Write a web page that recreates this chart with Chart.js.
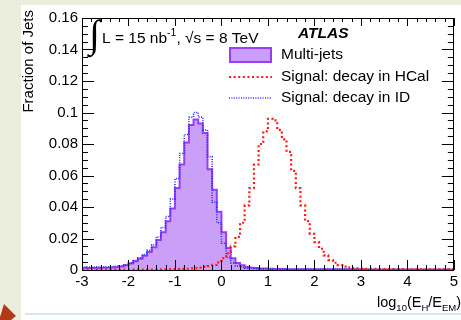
<!DOCTYPE html>
<html>
<head>
<meta charset="utf-8">
<script src="https://cdn.jsdelivr.net/npm/chart.js@4.4.0/dist/chart.umd.min.js"></script>
<style>
  html, body { margin: 0; padding: 0; }
  body { width: 461px; height: 320px; overflow: hidden; background: #eceedd; position: relative; }
  #sheet { position: absolute; left: 21px; top: 5px; width: 440px; height: 315px; background: #fff; }
  #rule { position: absolute; left: 25px; top: 313px; width: 436px; height: 2px; background: #d3e6f6; }
  #arrow { position: absolute; left: 0; top: 302px; width: 16px; height: 18px; background: #b23a16;
           clip-path: polygon(0 15px, 4px 2px, 16px 14px, 11px 18px, 0 18px); }
  #chart { position: absolute; left: 21px; top: 5px; }
</style>
</head>
<body>
<div id="sheet"></div>
<div id="rule"></div>
<div id="arrow"></div>
<canvas id="chart" width="440" height="315"></canvas>
<script>
// bin lower edges (+ last upper edge), log10(E_H/E_EM)
var binEdges = [
  -3.0, -2.9, -2.8, -2.7, -2.6, -2.5, -2.4, -2.3, -2.2, -2.1,
  -2.0, -1.9, -1.8, -1.7, -1.6, -1.5, -1.4, -1.3, -1.2, -1.1,
  -1.0, -0.9, -0.8, -0.7, -0.6, -0.5, -0.4, -0.3, -0.2, -0.1,
   0.0,  0.1,  0.2,  0.3,  0.4,  0.5,  0.6,  0.7,  0.8,  0.9,
   1.0,  1.1,  1.2,  1.3,  1.4,  1.5,  1.6,  1.7,  1.8,  1.9,
   2.0,  2.1,  2.2,  2.3,  2.4,  2.5,  2.6,  2.7,  2.8,  2.9,
   3.0,  3.1,  3.2,  3.3,  3.4,  3.5,  3.6,  3.7,  3.8,  3.9,
   4.0,  4.1,  4.2,  4.3,  4.4,  4.5,  4.6,  4.7,  4.8,  4.9,
   5.0
];

// fraction of jets per bin
var multiJets = [
  0.0012, 0.0012, 0.0012, 0.0013, 0.0013, 0.0014, 0.0015, 0.0016, 0.0018, 0.0022,
  0.003, 0.0042, 0.0055, 0.0072, 0.009, 0.0115, 0.0145, 0.019, 0.024, 0.031,
  0.039, 0.052, 0.067, 0.081, 0.092, 0.0955, 0.093, 0.087, 0.064, 0.051,
  0.037, 0.024, 0.014, 0.0075, 0.0045, 0.003, 0.002, 0.0015, 0.0012, 0.001,
  0.0009, 0.0008, 0.0007, 0.0006, 0.0006, 0.0005, 0.0005, 0.0005, 0.0005, 0.0004,
  0.0004, 0.0004, 0.0004, 0.0004, 0.0004, 0.0004, 0.0004, 0.0004, 0.0004, 0.0004,
  0.0004, 0.0004, 0.0003, 0.0003, 0.0003, 0.0003, 0.0003, 0.0003, 0.0003, 0.0003,
  0.0003, 0.0003, 0.0003, 0.0003, 0.0003, 0.0003, 0.0003, 0.0003, 0.0003, 0.0003
];

var sigHCal = [
  0.0002, 0.0002, 0.0002, 0.0002, 0.0002, 0.0002, 0.0002, 0.0002, 0.0002, 0.0002,
  0.0002, 0.0002, 0.0002, 0.0002, 0.0002, 0.0003, 0.0003, 0.0003, 0.0004, 0.0004,
  0.0005, 0.0006, 0.0007, 0.0008, 0.001, 0.0012, 0.0015, 0.002, 0.0025, 0.0032,
  0.0048, 0.0075, 0.0105, 0.015, 0.021, 0.03, 0.041, 0.052, 0.067, 0.08,
  0.088, 0.096, 0.095, 0.089, 0.083, 0.075, 0.063, 0.052, 0.041, 0.031,
  0.023, 0.0177, 0.0135, 0.0093, 0.0063, 0.0046, 0.0031, 0.0022, 0.0016, 0.0012,
  0.001, 0.0009, 0.0008, 0.0007, 0.0007, 0.0006, 0.0006, 0.0005, 0.0005, 0.0005,
  0.0004, 0.0004, 0.0004, 0.0004, 0.0004, 0.0004, 0.0004, 0.0004, 0.0004, 0.0004
];

var sigID = [
  0.0018, 0.0018, 0.0019, 0.0019, 0.002, 0.002, 0.0021, 0.0022, 0.0024, 0.0027,
  0.0033, 0.0045, 0.006, 0.0078, 0.0098, 0.0125, 0.016, 0.021, 0.027, 0.034,
  0.045, 0.058, 0.074, 0.086, 0.097, 0.1, 0.097, 0.089, 0.072, 0.043,
  0.03, 0.017, 0.008, 0.0045, 0.0025, 0.0017, 0.0012, 0.001, 0.0008, 0.0007,
  0.0006, 0.0006, 0.0005, 0.0005, 0.0005, 0.0004, 0.0004, 0.0004, 0.0004, 0.0004,
  0.0004, 0.0004, 0.0004, 0.0004, 0.0004, 0.0004, 0.0004, 0.0004, 0.0004, 0.0004,
  0.0003, 0.0003, 0.0003, 0.0003, 0.0003, 0.0003, 0.0003, 0.0003, 0.0003, 0.0003,
  0.0003, 0.0003, 0.0003, 0.0003, 0.0003, 0.0003, 0.0003, 0.0003, 0.0003, 0.0003
];

var seriesLabels = ['Multi-jets', 'Signal: decay in HCal', 'Signal: decay in ID'];
var xRange = [-3, 5];
var yRange = [0, 0.16];

var FONT = "'Liberation Sans', Arial, Helvetica, sans-serif";
Chart.defaults.font.family = FONT;
Chart.defaults.color = '#000';

// histogram -> step points (one per lower edge, plus closing edge)
function toSteps(vals) {
    var pts = vals.map(function (v, i) { return {x: binEdges[i], y: v}; });
    pts.push({x: binEdges[vals.length], y: vals[vals.length - 1]});
    return pts;
}

// draws a string made of normal / sub / superscript pieces
function drawRich(ctx, parts, x, y) {
    parts.forEach(function (p) {
        ctx.font = (p.w || '') + ' ' + p.s + 'px ' + FONT;
        ctx.fillText(p.t, x, y + (p.dy || 0));
        x += ctx.measureText(p.t).width;
    });
}

/*------------------------------- ROOT style frame, ticks, titles, legend -------------------------------*/
var rootFrame = {
    id: 'rootFrame',
    afterDatasetsDraw: function (chart) {
        var ctx = chart.ctx, a = chart.chartArea;
        var xs = chart.scales.x, ys = chart.scales.y;
        ctx.save();
        ctx.strokeStyle = '#000';
        ctx.lineWidth = 1;
        ctx.strokeRect(Math.round(a.left) + 0.5, Math.round(a.top) + 0.5,
            Math.round(a.right - a.left) - 1, Math.round(a.bottom - a.top));

        ctx.beginPath();
        // x ticks: major every 1, minor every 0.2 (bottom and top)
        for (var k = 0; k <= 40; k++) {
            var px = Math.round(xs.getPixelForValue(xRange[0] + k * 0.2)) + 0.5;
            var len = (k % 5 === 0) ? 10 : 5;
            ctx.moveTo(px, a.bottom); ctx.lineTo(px, a.bottom - len);
            ctx.moveTo(px, a.top); ctx.lineTo(px, a.top + len * 0.8);
        }
        // y ticks: major every 0.02, minor every 0.005 (left and right)
        for (var j = 0; j <= 32; j++) {
            var py = Math.round(ys.getPixelForValue(j * 0.005)) + 0.5;
            var l2 = (j % 4 === 0) ? 12 : 6;
            ctx.moveTo(a.left, py); ctx.lineTo(a.left + l2, py);
            ctx.moveTo(a.right, py); ctx.lineTo(a.right - l2, py);
        }
        ctx.stroke();

        ctx.fillStyle = '#000';
        ctx.textBaseline = 'alphabetic';
        ctx.textAlign = 'left';

        // y title
        ctx.save();
        ctx.translate(12, 5);
        ctx.rotate(-Math.PI / 2);
        ctx.textAlign = 'right';
        ctx.font = '15px ' + FONT;
        ctx.fillText('Fraction of Jets', 0, 0);
        ctx.restore();

        // x title
        drawRich(ctx, [
            {t: 'log', s: 14.5}, {t: '10', s: 9.5, dy: 4},
            {t: '(E', s: 14.5}, {t: 'H', s: 9.5, dy: 4},
            {t: '/E', s: 14.5}, {t: 'EM', s: 9.5, dy: 4},
            {t: ')', s: 14.5}
        ], 356, 301.5);

        // luminosity / energy
        ctx.font = "39px 'Liberation Serif', 'DejaVu Serif', serif";
        ctx.fillText('\u222B', 68, 42);
        drawRich(ctx, [
            {t: 'L = 15 nb', s: 15.5}, {t: '-1', s: 10.5, dy: -7},
            {t: ', \u221As = 8 TeV', s: 15.5}
        ], 81, 38);

        // ATLAS
        ctx.font = 'italic bold 15.5px ' + FONT;
        ctx.fillText('ATLAS', 277, 33);

        // legend
        ctx.fillStyle = '#c99ff8';
        ctx.fillRect(208, 42, 43, 16);
        ctx.strokeStyle = '#9b3df7';
        ctx.lineWidth = 2;
        ctx.strokeRect(209, 43, 41, 14);

        ctx.beginPath();
        ctx.setLineDash([2, 2.6]);
        ctx.lineWidth = 2.2;
        ctx.strokeStyle = '#ff1a1a';
        ctx.moveTo(208, 72); ctx.lineTo(251, 72);
        ctx.stroke();

        ctx.beginPath();
        ctx.setLineDash([1, 1.4]);
        ctx.lineWidth = 1.6;
        ctx.strokeStyle = '#2a2aff';
        ctx.moveTo(208, 93); ctx.lineTo(251, 93);
        ctx.stroke();
        ctx.setLineDash([]);

        ctx.fillStyle = '#000';
        ctx.textBaseline = 'middle';
        ctx.font = '15.5px ' + FONT;
        ctx.fillText(seriesLabels[0], 260, 50);
        ctx.fillText(seriesLabels[1], 260, 72);
        ctx.fillText(seriesLabels[2], 260, 93);
        ctx.restore();
    }
};

var ctx = document.getElementById('chart').getContext('2d');
new Chart(ctx, {
    type: 'line',
    data: {
        datasets: [
            {
                label: seriesLabels[1],
                data: toSteps(sigHCal),
                stepped: 'after',
                borderColor: '#ff1a1a',
                borderWidth: 2.2,
                borderDash: [2, 2.6],
                pointRadius: 0,
                fill: false,
                order: 0
            },
            {
                label: seriesLabels[2],
                data: toSteps(sigID),
                stepped: 'after',
                borderColor: '#2a2aff',
                borderWidth: 1.6,
                borderDash: [1, 1.4],
                pointRadius: 0,
                fill: false,
                order: 1
            },
            {
                label: seriesLabels[0],
                data: toSteps(multiJets),
                stepped: 'after',
                borderColor: '#9b3df7',
                backgroundColor: '#c99ff8',
                borderWidth: 2,
                pointRadius: 0,
                fill: 'origin',
                order: 2
            }
        ]
    },
    options: {
        responsive: false,
        animation: false,
        devicePixelRatio: 1,
        layout: {autoPadding: false, padding: {top: 8, right: 1, left: 0, bottom: 0}},
        plugins: {legend: {display: false}, tooltip: {enabled: false}},
        scales: {
            x: {
                type: 'linear',
                min: xRange[0], max: xRange[1],
                grid: {display: false, drawTicks: false},
                border: {display: false},
                ticks: {stepSize: 1, padding: 3, font: {size: 15}, color: '#000'},
                afterFit: function (s) { s.height = 50; }
            },
            y: {
                min: yRange[0], max: yRange[1],
                grid: {display: false, drawTicks: false},
                border: {display: false},
                ticks: {
                    stepSize: 0.02, padding: 4, font: {size: 15}, color: '#000',
                    callback: function (v) { return String(Math.round(v * 100) / 100); }
                },
                afterFit: function (s) { s.width = 61; }
            }
        }
    },
    plugins: [rootFrame]
});
</script>
</body>
</html>
